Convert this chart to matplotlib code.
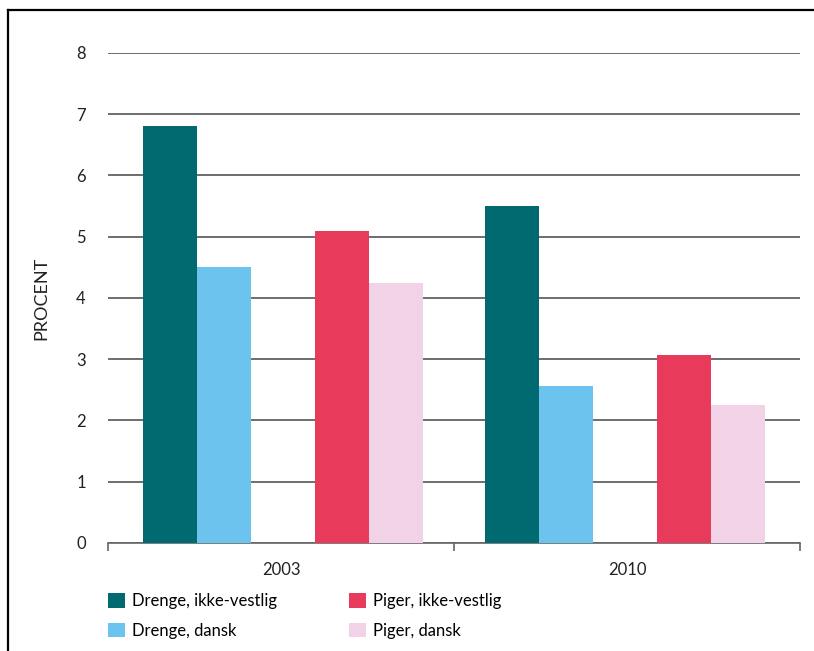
import numpy as np
import matplotlib
matplotlib.use("Agg")
import matplotlib.pyplot as plt
from matplotlib.lines import Line2D
from matplotlib.patches import Patch

plt.rcParams["font.family"] = ["Lato", "DejaVu Sans"]

years = ["2003", "2010"]
series = ["Drenge, ikke-vestlig", "Drenge, dansk", "Piger, ikke-vestlig", "Piger, dansk"]
drenge_ikke_vestlig = [6.8, 5.5]
drenge_dansk = [4.5, 2.56]
piger_ikke_vestlig = [5.1, 3.07]
piger_dansk = [4.25, 2.25]
y_ticks = [0, 1, 2, 3, 4, 5, 6, 7, 8]

colors = ["#006a70", "#6cc4ee", "#e83b5c", "#f2d2e6"]
offsets = [-0.32, -0.164, 0.176, 0.332]
width = 0.156

fig = plt.figure(figsize=(8.14, 6.51), dpi=100)
ax = fig.add_axes([0.1327, 0.1659, 0.8501, 0.7527])

centers = np.arange(len(years)) + 0.5
bar_centers = centers - np.array([0.0, 0.012])
values = [drenge_ikke_vestlig, drenge_dansk, piger_ikke_vestlig, piger_dansk]
for vals, off, col, lab in zip(values, offsets, colors, series):
    ax.bar(bar_centers + off, vals, width=width, color=col, label=lab, zorder=3)

ax.set_xlim(0, len(years))
ax.set_ylim(0, 8)
ax.set_yticks(y_ticks)
ax.yaxis.grid(True, color="#555555", linewidth=1.2, zorder=0)
ax.set_axisbelow(True)
ax.tick_params(axis="y", length=0, pad=16, labelsize=12, colors="#222222")

ax.set_xticks([0, 1, 2])
ax.set_xticklabels([])
ax.set_xticks(centers, minor=True)
ax.set_xticklabels(years, minor=True)
ax.tick_params(axis="x", which="major", length=6, width=1.2, color="#666666", direction="out")
ax.tick_params(axis="x", which="minor", length=0, pad=14, labelsize=12, colors="#222222")

for s in ["top", "right", "left"]:
    ax.spines[s].set_visible(False)
ax.spines["bottom"].set_color("#666666")
ax.spines["bottom"].set_linewidth(1.2)

fig.text(0.051, 0.542, "PROCENT", rotation=90, ha="center", va="center",
         fontsize=13, color="#222222")

handles = [Patch(facecolor=c, edgecolor="none") for c in colors]
fig.legend(handles, series, loc="upper left", bbox_to_anchor=(0.133, 0.089), ncol=2,
           frameon=False, fontsize=12, handlelength=1.0, handleheight=1.0,
           handletextpad=0.45, labelspacing=0.8, columnspacing=4.3,
           borderaxespad=0, borderpad=0)

# frame lines at the top and left
fig.add_artist(Line2D([0.0098, 0.0098], [0, 0.9846], color="black", linewidth=1.6))
fig.add_artist(Line2D([0.0098, 1.0], [0.9846, 0.9846], color="black", linewidth=1.6))

fig.savefig("out.png", dpi=100)
